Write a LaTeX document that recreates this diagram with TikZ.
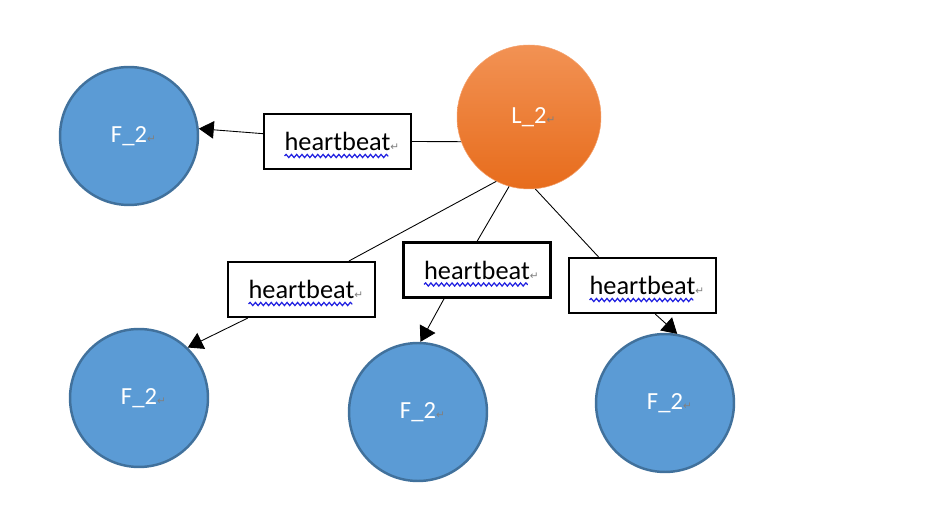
\documentclass[tikz,border=0pt]{standalone}
\usepackage{fontspec}
\setmainfont{Carlito}
\newfontfamily\symfont{DejaVu Sans}
\usetikzlibrary{arrows.meta,decorations.pathmorphing}

\definecolor{fblue}{HTML}{5B9BD5}
\definecolor{fborder}{HTML}{41719C}
\definecolor{ltop}{HTML}{F29254}
\definecolor{lbottom}{HTML}{E76C1C}
\definecolor{spell}{HTML}{2020E0}
\newcommand{\pmark}{\rlap{{\symfont\fontsize{6}{7}\selectfont\textcolor{gray}{↵}}}}

\begin{document}
\begin{tikzpicture}[x=0.02cm, y=-0.02cm,
follower/.style = {circle, draw=fborder, line width=1.4pt, fill=fblue, minimum size=2.76cm,
                   inner sep=0pt, text=white, font=\fontsize{14}{16}\selectfont},
leader/.style = {circle, draw=ltop!85!white, line width=0.3pt, top color=ltop, bottom color=lbottom,
                 minimum size=2.88cm, inner sep=0pt, text=white, font=\fontsize{14}{16}\selectfont},
msg/.style = {rectangle, draw, line width=1.2pt, minimum width=2.94cm, minimum height=1.1cm,
              inner sep=0pt, text depth=0pt, font=\fontsize{15}{18}\selectfont},
wavy/.style = {draw=spell, line width=0.7pt, decorate,
               decoration={snake, amplitude=0.9pt, segment length=3pt}},
line/.style = {draw, line width=0.5pt},
arrow/.style = {line, -{Triangle[length=8.5pt,width=10pt]}}]

\useasboundingbox (0,0) rectangle (927,530);

% leader and followers
\node [leader] (leader) at (529,117) {L\_2\pmark};
\node [follower] (f1) at (129,136) {F\_2\pmark};
\node [follower] (f2) at (139,398) {F\_2\pmark};
\node [follower] (f3) at (418,412) {F\_2\pmark};
\node [follower] (f4) at (665,403) {F\_2\pmark};

% heartbeat messages
\node [msg] (hb1) at (337.5,141.5) {heartbeat\pmark};
\node [msg] (hb2) at (301.5,289.5) {heartbeat\pmark};
\node [msg] (hb3) at (477,270) {heartbeat\pmark};
\node [msg] (hb4) at (642.5,285.5) {heartbeat\pmark};

% spell-check underlines
\foreach \hb in {hb1,hb2,hb3,hb4}
  \path [wavy] ([xshift=-1.06cm,yshift=-0.29cm]\hb.center) -- ([xshift=1.02cm,yshift=-0.29cm]\hb.center);

\begin{scope}[every path/.style=line]
\path (leader.200) -- (hb1.east);
\path (leader.243) -- (hb2.31);
\path (leader.254) -- (hb3.north);
\path (leader.275) -- (hb4.147);

\path [arrow] (hb1.174) -- (f1.6);
\path [arrow] (hb2.208) -- (f2.46);
\path [arrow] (hb3.221) -- (f3.88);
\path [arrow] (hb4.294) -- (f4.80);
\end{scope}
\end{tikzpicture}
\end{document}
